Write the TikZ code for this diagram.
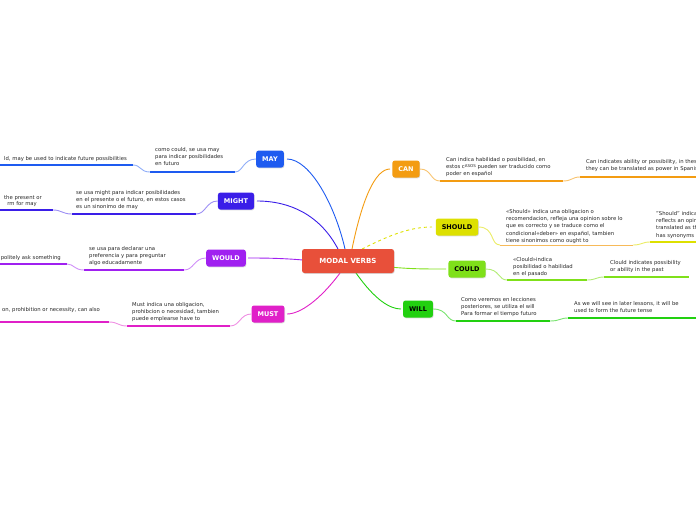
\documentclass[tikz,border=0pt]{standalone}
\usepackage{fontspec}
\setmainfont{DejaVu Sans}
\usetikzlibrary{shadows}
\begin{document}
\begin{tikzpicture}[x=1pt,y=-1pt,
  topic/.style={rounded corners=2.5pt,text=white,font=\bfseries\fontsize{6.5}{7}\selectfont,minimum height=17pt,inner xsep=6pt,drop shadow={opacity=0.3,shadow xshift=0.6pt,shadow yshift=-0.8pt}},
  txt/.style={anchor=north west,align=left,inner sep=0pt,font=\fontsize{5.3}{7.3}\selectfont,text=black!85},
  ltxt/.style={anchor=base east,inner sep=0pt,font=\fontsize{5.3}{6}\selectfont,text=black!85},
  ul/.style={line width=1.8pt},
  br/.style={line width=0.9pt}]
\useasboundingbox (0,0) rectangle (696,520);
\clip (0,0) rectangle (696,520);
\definecolor{kR}{HTML}{E8503A}\definecolor{kO}{HTML}{F39C12}\definecolor{kY}{HTML}{DDE000}
\definecolor{kG}{HTML}{7FE01A}\definecolor{kW}{HTML}{22D010}\definecolor{kB}{HTML}{1E5BF0}
\definecolor{kV}{HTML}{3A1EE8}\definecolor{kP}{HTML}{A020F0}\definecolor{kM}{HTML}{E020C8}
% connectors from center
\draw[br,kO] (352,249) .. controls (362,200) and (375,169) .. (390,169);
\draw[br,kY,dashed] (362,249) .. controls (390,235) and (410,227) .. (432,227);
\draw[br,kG] (390,267) .. controls (410,269) and (425,269) .. (446,269);
\draw[br,kW] (356,273) .. controls (375,300) and (390,309) .. (401,309);
\draw[br,kB] (345,249) .. controls (335,205) and (310,159) .. (287,159);
\draw[br,kV] (338,249) .. controls (320,215) and (290,201) .. (257,201);
\draw[br,kP] (303,260) .. controls (280,258) and (260,258) .. (248,258);
\draw[br,kM] (340,273) .. controls (320,300) and (300,314) .. (287,314);
\node[topic,fill=kR,minimum width=92pt,minimum height=24pt,font=\bfseries\fontsize{7}{8}\selectfont] (mv) at (348,261) {MODAL VERBS};
\node[topic,fill=kO] (can) at (406,169) {CAN};
\node[topic,fill=kY,text=black] (sh) at (457,227) {SHOU\raisebox{-0.6pt}{LD}};
\node[topic,fill=kG,text=black] (cou) at (467,269) {CO\raisebox{-0.6pt}{ULD}};
\node[topic,fill=kW,text=black] (wi) at (418,309) {WILL};
\node[topic,fill=kB] (may) at (270,159) {MAY};
\node[topic,fill=kV] (mi) at (236,201) {MIGHT};
\node[topic,fill=kP] (wo) at (226,258) {WOULD};
\node[topic,fill=kM] (mu) at (268,314) {MUST};
% CAN
\draw[kO!60,br] (can.east) .. controls (432,169) and (430,181) .. (440,181);
\draw[ul,kO] (440,181) -- (563,181);
\node[txt] at (446,157) {Can indica habilidad o posibilidad, en\\estos c\raisebox{1pt}{\fontsize{4}{4}\selectfont ASOS} pueden ser traducido como\\poder en español};
\draw[kO!60,br] (563,181) .. controls (572,181) and (572,177) .. (580,177);
\draw[ul,kO] (580,177) -- (696,177);
\node[txt] at (586,159) {Can indicates ability or possibility, in these cases\\they can be translated as power in Spanish};
% SHOULD
\draw[kY!60,br] (sh.east) .. controls (495,227) and (490,245) .. (500,245);
\draw[line width=0.8pt,kO!70] (500,245) -- (633,245);
\node[txt] at (506,209) {«Should» indica una obligacion o\\recomendacion, refleja una opinion sobre lo\\que es correcto y se traduce como el\\condicional«deber» en español, tambien\\tiene sinonimos como ought to};
\draw[kY!60,br] (633,245) .. controls (642,245) and (642,242) .. (650,242);
\draw[ul,kY] (650,242) -- (696,242);
\node[txt] at (656,211) {"Should" indicates an obligation,\\reflects an opinion and is\\translated as the conditional; it\\has synonyms such as ought to};
% COULD
\draw[kG!60,br] (cou.east) .. controls (500,269) and (498,280) .. (507,280);
\draw[ul,kG] (507,280) -- (587,280);
\node[txt] at (513,257) {«Clould»indica\\posibilidad o habilidad\\en el pasado};
\draw[kG!60,br] (587,280) .. controls (596,280) and (596,277) .. (604,277);
\draw[ul,kG] (604,277) -- (689,277);
\node[txt] at (610,260) {Clould indicates possibility\\or ability in the past};
% WILL
\draw[kW!60,br] (wi.east) .. controls (448,309) and (446,321) .. (456,321);
\draw[ul,kW] (456,321) -- (550,321);
\node[txt] at (461,297) {C\raisebox{-0.5pt}{omo} veremos en lecciones\\posteriores, se utiliza el will\\Para formar el tiempo futuro};
\draw[kW!60,br] (550,321) .. controls (560,321) and (560,318) .. (568,318);
\draw[ul,kW] (568,318) -- (696,318);
\node[txt] at (574,301) {As we will see in later lessons, it will be\\used to form the future tense};
% MAY
\draw[kB!50,br] (may.west) .. controls (243,159) and (243,172) .. (235,172);
\draw[ul,kB] (150,172) -- (235,172);
\node[txt] at (155,147) {como could, se usa may\\para indicar posibilidades\\en futuro};
\draw[kB!50,br] (150,172) .. controls (140,172) and (141,165) .. (133,165);
\draw[ul,kB] (0,165) -- (133,165);
\node[ltxt] at (127,160) {ld, may be used to indicate future possibilities};
% MIGHT
\draw[kV!50,br] (mi.west) .. controls (206,201) and (206,214) .. (196,214);
\draw[ul,kV] (72,214) -- (196,214);
\node[txt] at (76,190) {se usa might para indicar posibilidades\\en el presente o el futuro, en estos casos\\es un sinonimo de may};
\draw[kV!50,br] (72,214) .. controls (62,214) and (62,210) .. (53,210);
\draw[ul,kV] (0,210) -- (53,210);
\node[ltxt] at (42,199) {the present or};
\node[ltxt] at (37,205) {rm for may};
% WOULD
\draw[kP!50,br] (wo.west) .. controls (194,258) and (194,270) .. (184,270);
\draw[ul,kP] (84,270) -- (184,270);
\node[txt] at (89,246) {se usa para declarar una\\preferencia y para preguntar\\algo educadamente};
\draw[kP!50,br] (84,270) .. controls (74,270) and (74,264) .. (67,264);
\draw[ul,kP] (0,264) -- (67,264);
\node[ltxt] at (61,259) {politely ask something};
% MUST
\draw[kM!50,br] (mu.west) .. controls (240,314) and (240,326) .. (230,326);
\draw[ul,kM] (127,326) -- (230,326);
\node[txt] at (132,302) {Must indica una obligacion,\\prohibcion o necesidad, tambien\\puede emplearse have to};
\draw[kM!50,br] (127,326) .. controls (118,326) and (118,322) .. (109,322);
\draw[ul,kM] (0,322) -- (109,322);
\node[ltxt] at (100,311) {on, prohibition or necessity, can also};
\end{tikzpicture}
\end{document}
